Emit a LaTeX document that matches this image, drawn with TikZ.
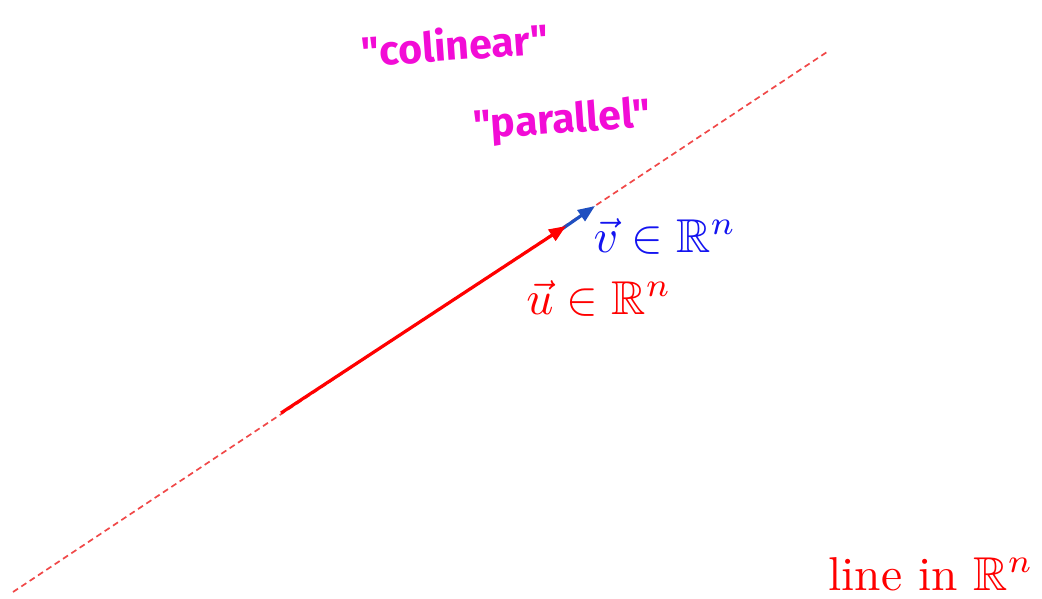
\documentclass[tikz,border=0pt]{standalone}
\usepackage{fontspec}
\usepackage{amssymb}
\usepackage{graphicx}
\usetikzlibrary{arrows.meta}
\newfontfamily\handfont{Fira Sans}
\definecolor{hand}{HTML}{F20CD6}
\definecolor{dashred}{HTML}{F04848}
\definecolor{vblue}{HTML}{1F4FC0}
\definecolor{tblue}{HTML}{1414F0}
\newcommand{\biglab}[1]{\scalebox{4.75}{#1}}
\begin{document}
\begin{tikzpicture}[x=1pt,y=-1pt,
  linedash/.style={draw=dashred, line width=1.7pt, dash pattern=on 6pt off 4pt},
  vecarrow/.style={line width=3.2pt, -{Triangle[length=17pt,width=13pt]}},
  mathlabel/.style={inner sep=0pt},
  handlabel/.style={font=\handfont\bfseries\fontsize{41}{44}\selectfont, text=hand, inner sep=0pt}]
\useasboundingbox (0,0) rectangle (1042,599);
\coordinate (L0) at (13,592);
\coordinate (L1) at (827,52);
\coordinate (U0) at (281,413);
\coordinate (U1) at (566,226);
\coordinate (V0) at (562,229);
\coordinate (V1) at (595,206);
\draw[linedash] (L0) -- (L1);
\draw[vecarrow, draw=vblue, fill=vblue] (V0) -- (V1);
\draw[vecarrow, draw=red, fill=red] (U0) -- (U1);
\node[mathlabel, text=tblue] (vlab) at (665,236) {\biglab{$\vec{v}\in\mathbb{R}^n$}};
\node[mathlabel, text=red] (ulab) at (599,298) {\biglab{$\vec{u}\in\mathbb{R}^n$}};
\node[mathlabel, text=red] (linelab) at (931,574) {\biglab{line in $\mathbb{R}^n$}};
\node[handlabel, rotate=4] (colin) at (455,44) {"colinear"};
\node[handlabel, rotate=4] (paral) at (562,122) {"parallel"};
\end{tikzpicture}
\end{document}
